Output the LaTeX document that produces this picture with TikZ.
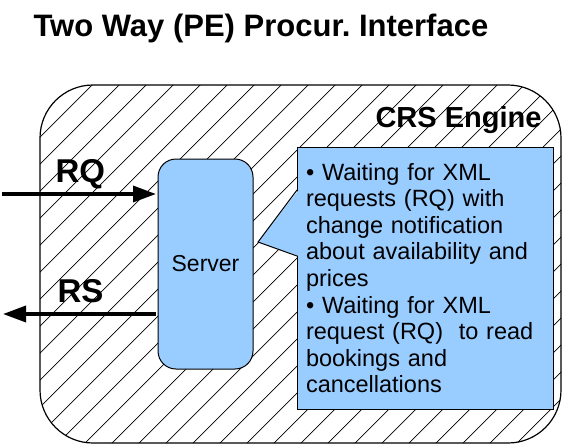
\documentclass[tikz,border=0pt]{standalone}
\usepackage{fontspec}
\setmainfont{Liberation Sans}
\usetikzlibrary{arrows.meta}
\definecolor{paleblue}{HTML}{99CCFF}

\begin{document}
\begin{tikzpicture}[x=1pt,y=-1pt,
		box/.style={draw=black,line width=1pt,fill=paleblue,outer sep=0pt},
		flow/.style={line width=3.5pt,-{Triangle[length=23pt,width=16pt]}},
		hatch/.style={line width=0.7pt},
		big/.style={font=\bfseries\fontsize{#1}{#1}\selectfont,anchor=base west}]
		\useasboundingbox (0,0) rectangle (562,445);
		\node[big=31] (title) at (30,36) {Two Way (PE) Procur.\ Interface};

		% hatched engine frame
		\begin{scope}
			\clip[rounded corners=53pt] (40,85) rectangle (561,443);
			\foreach \c in {15,42,...,1020}
				\draw[hatch] (\c-445,445) -- (\c,0);
		\end{scope}
		\draw[line width=1.2pt,rounded corners=53pt] (40,85) rectangle (561,443);
		\node[big=29] (crs) at (372,127) {CRS Engine};

		\begin{scope}
			\node[box,rounded corners=18pt,minimum width=95pt,minimum height=210pt,
				font=\fontsize{23}{26}\selectfont] (server) at (205.5,264) {Server};

			\node[box,anchor=north west,minimum width=256pt,minimum height=262pt,
				text width=238pt,align=left,inner sep=0pt,
				font=\fontsize{23.5}{26.6}\selectfont] (note) at (297,147)
				{• Waiting for XML\\ requests (RQ) with\\ change notification\\
				about availability and\\ prices\\ • Waiting for XML\\
				request (RQ)~ to read\\ bookings and\\ cancellations};
			\coordinate (tip) at (258,242);
			\fill[paleblue] ([shift={(1.5pt,-43pt)}]note.north west) -- (tip)
				-- ([shift={(1.5pt,-109pt)}]note.north west) -- cycle;
			\draw[line width=1pt] ([yshift=-43pt]note.north west) -- (tip)
				-- ([yshift=-109pt]note.north west);
		\end{scope}

		% request and response
		\coordinate (rqend) at (2,194);
		\coordinate (rsend) at (3,314);
		\draw[flow,shorten >=2pt] (rqend) -- (rqend -| server.west);
		\draw[flow,shorten <=2pt] (rsend -| server.west) -- (rsend);
		\node[big=33] (rq) at (52,182) {RQ};
		\node[big=33] (rs) at (54,302) {RS};
	\end{tikzpicture}
\end{document}
